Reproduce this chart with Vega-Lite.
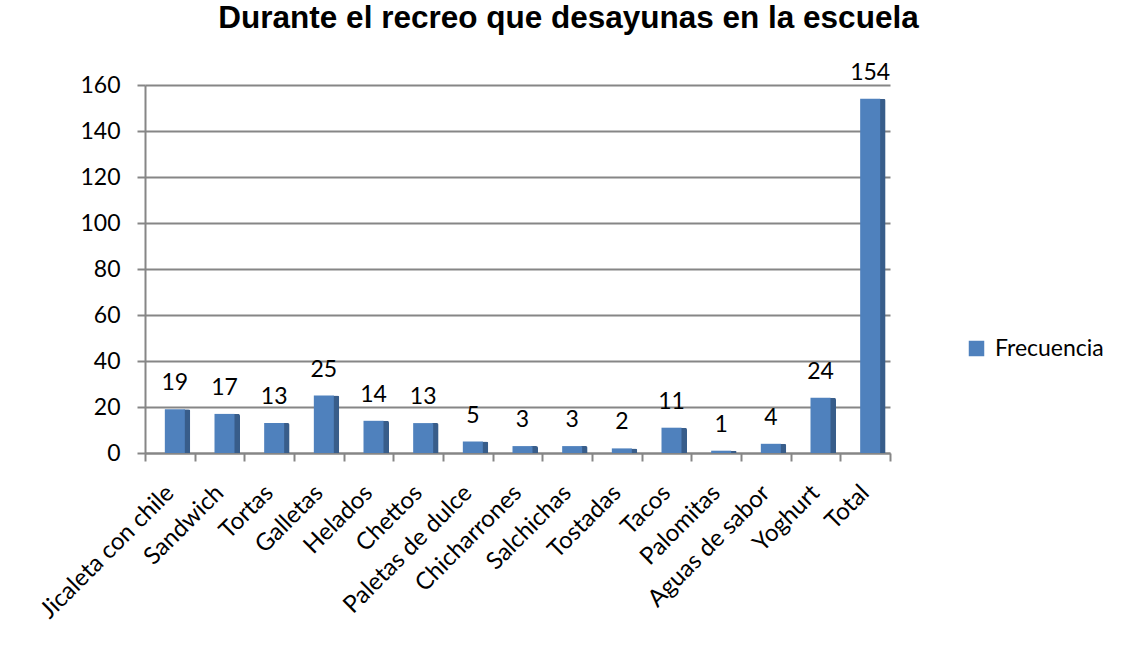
{
  "$schema": "https://vega.github.io/schema/vega-lite/v6.json",
  "autosize": {"type": "none"},
  "width": 745,
  "height": 368,
  "padding": {"left": 145, "top": 85, "right": 244, "bottom": 211},
  "background": "white",
  "title": {
    "text": "Durante el recreo que desayunas en la escuela",
    "font": "Liberation Sans",
    "fontSize": 31.5,
    "fontWeight": "bold",
    "color": "#000000",
    "anchor": "middle",
    "dx": 51,
    "offset": 27
  },
  "data": {
    "values": [
      {"categoria": "Jicaleta con chile", "valor": 19, "serie": "Frecuencia"},
      {"categoria": "Sandwich", "valor": 17, "serie": "Frecuencia"},
      {"categoria": "Tortas", "valor": 13, "serie": "Frecuencia"},
      {"categoria": "Galletas", "valor": 25, "serie": "Frecuencia"},
      {"categoria": "Helados", "valor": 14, "serie": "Frecuencia"},
      {"categoria": "Chettos", "valor": 13, "serie": "Frecuencia"},
      {"categoria": "Paletas de dulce", "valor": 5, "serie": "Frecuencia"},
      {"categoria": "Chicharrones", "valor": 3, "serie": "Frecuencia"},
      {"categoria": "Salchichas", "valor": 3, "serie": "Frecuencia"},
      {"categoria": "Tostadas", "valor": 2, "serie": "Frecuencia"},
      {"categoria": "Tacos", "valor": 11, "serie": "Frecuencia"},
      {"categoria": "Palomitas", "valor": 1, "serie": "Frecuencia"},
      {"categoria": "Aguas de sabor", "valor": 4, "serie": "Frecuencia"},
      {"categoria": "Yoghurt", "valor": 24, "serie": "Frecuencia"},
      {"categoria": "Total", "valor": 154, "serie": "Frecuencia"}
    ]
  },
  "encoding": {
    "x": {
      "field": "categoria",
      "type": "nominal",
      "sort": null,
      "scale": {"paddingInner": 0, "paddingOuter": 0},
      "axis": {
        "title": null,
        "labelAngle": -45,
        "labelAlign": "right",
        "labelBaseline": "middle",
        "labelFont": "Lato",
        "labelFontSize": 24,
        "labelColor": "#000000",
        "labelPadding": 28,
        "tickBand": "extent",
        "tickSize": 8,
        "tickColor": "#868686",
        "tickWidth": 2,
        "domainColor": "#868686",
        "domainWidth": 2,
        "grid": false
      }
    },
    "y": {
      "field": "valor",
      "type": "quantitative",
      "scale": {"domain": [0, 160]},
      "axis": {
        "title": null,
        "values": [0, 20, 40, 60, 80, 100, 120, 140, 160],
        "labelFont": "Lato",
        "labelFontSize": 23,
        "labelColor": "#000000",
        "labelPadding": 17,
        "tickSize": 8,
        "tickColor": "#868686",
        "tickWidth": 2,
        "domainColor": "#868686",
        "domainWidth": 2,
        "grid": true,
        "gridColor": "#868686",
        "gridWidth": 2
      }
    }
  },
  "layer": [
    {
      "mark": {"type": "bar", "width": 7, "xOffset": 17, "color": "#385D8A", "cornerRadiusTopRight": 2},
      "encoding": {}
    },
    {
      "mark": {"type": "bar", "width": 20, "xOffset": 5},
      "encoding": {
        "color": {
          "field": "serie",
          "type": "nominal",
          "scale": {"range": ["#4F81BD"]},
          "legend": {
            "title": null,
            "orient": "none",
            "legendX": 820,
            "legendY": 252,
            "symbolType": "square",
            "symbolSize": 240,
            "symbolStrokeWidth": 0,
            "symbolOpacity": 1,
            "labelFont": "Lato",
            "labelFontSize": 23,
            "labelColor": "#000000",
            "labelOffset": 7
          }
        }
      }
    },
    {
      "mark": {"type": "text", "dy": -14, "dx": 5, "baseline": "bottom", "font": "Lato", "fontSize": 23, "color": "#000000"},
      "encoding": {"text": {"field": "valor", "type": "quantitative"}}
    }
  ],
  "config": {"view": {"stroke": null}}
}
